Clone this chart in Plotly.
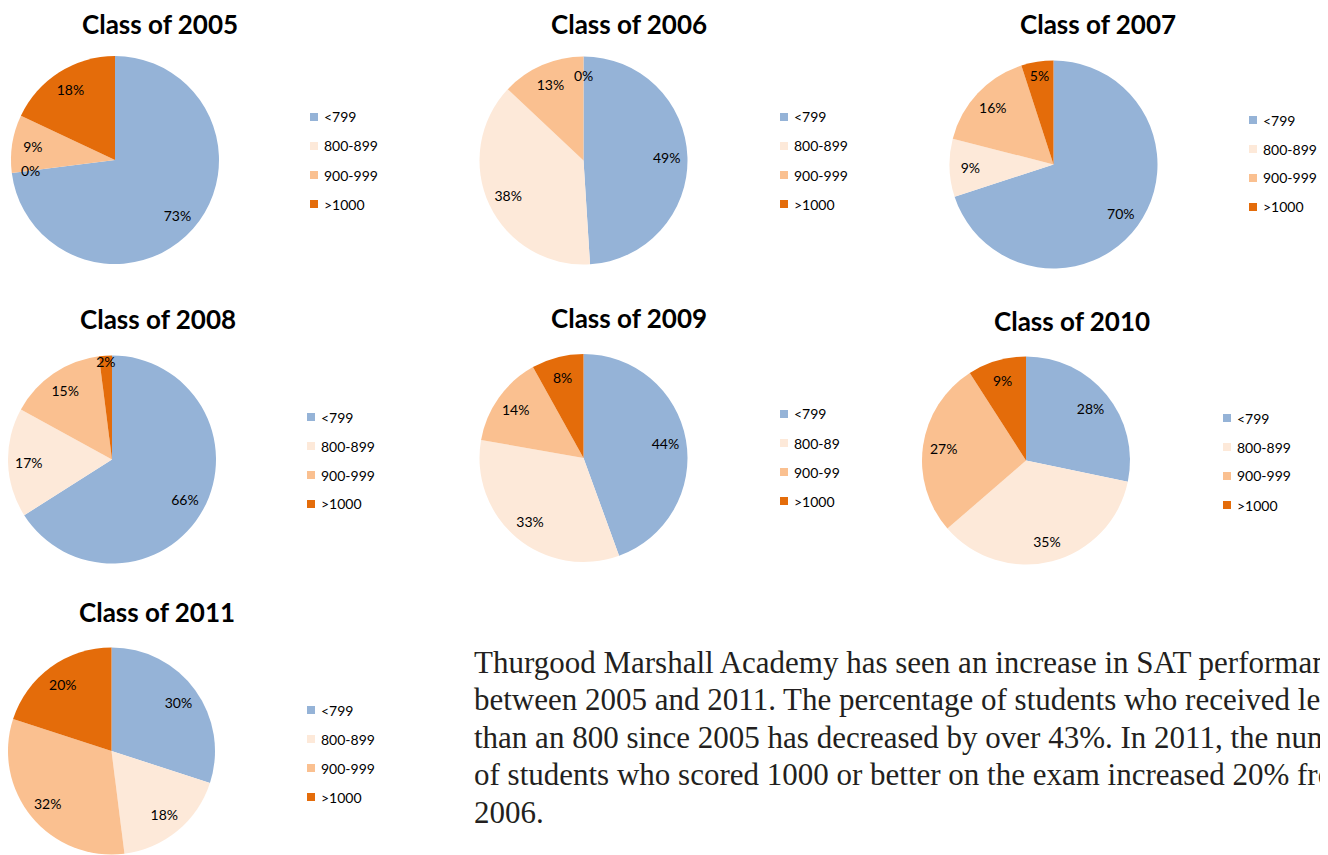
import math
import plotly.graph_objects as go

W, H = 1328, 855
OFF = 8                        # the page body adds an 8px margin around the plot div
FW, FH = W - OFF, H - OFF      # figure size, so that the plot ends at the window edge

# ---- data ----
years = ["2005", "2006", "2007", "2008", "2009", "2010", "2011"]
bands = ["<799", "800-899", "900-999", ">1000"]
bands_2009 = ["<799", "800-89", "900-99", ">1000"]  # as printed on the 2009 legend

pct_2005 = [73, 0, 9, 18]
pct_2006 = [49, 38, 13, 0]
pct_2007 = [70, 9, 16, 5]
pct_2008 = [66, 17, 15, 2]
pct_2009 = [44, 33, 14, 8]
pct_2010 = [28, 35, 27, 9]
pct_2011 = [30, 18, 32, 20]

colors = ["#95B3D7", "#FDE9D9", "#FAC090", "#E46C0A"]

summary_lines = [
    "Thurgood Marshall Academy has seen an increase in SAT performance",
    "between 2005 and 2011. The percentage of students who received less",
    "than an 800 since 2005 has decreased by over 43%. In 2011, the number",
    "of students who scored 1000 or better on the exam increased 20% from",
    "2006.",
]

# ---- placement in window pixels: pie centre, radius, title centre, legend swatch x, first legend row y ----
panels = [
    dict(cx=115, cy=160, r=104, tx=160, ty=21, lx=314, ly=117),
    dict(cx=583.5, cy=160.5, r=104, tx=629, ty=20, lx=784, ly=117),
    dict(cx=1053.5, cy=164.5, r=104, tx=1098, ty=24, lx=1253, ly=120),
    dict(cx=112, cy=459.5, r=104, tx=158, ty=319, lx=311, ly=417),
    dict(cx=583.5, cy=458, r=104, tx=629, ty=318, lx=784, ly=414),
    dict(cx=1026, cy=460.5, r=104, tx=1072, ty=321, lx=1227, ly=418),
    dict(cx=111, cy=751, r=104, tx=157, ty=612, lx=311, ly=710),
]
row_gap = 29
label_r = 0.82   # data labels sit at ~82% of the radius
title_size = 26

series = [pct_2005, pct_2006, pct_2007, pct_2008, pct_2009, pct_2010, pct_2011]
label_sets = [bands, bands, bands, bands, bands_2009, bands, bands]


def px_x(x):
    return (x - OFF) / FW


def px_y(y):
    return 1 - (y - OFF) / FH


fig = go.Figure()
shapes = []
annotations = []
label_font = dict(family="Lato", size=14, color="#000000")

for year, vals, labs, p in zip(years, series, label_sets, panels):
    dom = dict(
        x=[max(0, px_x(p["cx"] - p["r"])), px_x(p["cx"] + p["r"])],
        y=[max(0, px_y(p["cy"] + p["r"])), min(1, px_y(p["cy"] - p["r"]))],
    )
    # solid pie
    fig.add_trace(go.Pie(
        labels=labs, values=vals, domain=dom, sort=False, direction="clockwise",
        rotation=0, marker=dict(colors=colors, line=dict(width=0)),
        textinfo="none", showlegend=False, name="Class of " + year,
        hovertemplate="%{label}: %{value}%<extra>Class of " + year + "</extra>",
    ))
    # transparent ring on top, only to carry the data labels near the rim
    fig.add_trace(go.Pie(
        labels=labs, values=vals, domain=dom, sort=False, direction="clockwise",
        rotation=0, hole=0.6,
        marker=dict(colors=["rgba(0,0,0,0)"] * len(vals), line=dict(width=0)),
        text=[f"{v}%" if v else "" for v in vals], textinfo="text", textposition="inside",
        insidetextorientation="horizontal", textfont=label_font,
        showlegend=False, hoverinfo="skip",
    ))

    # zero-sized slices have no area for plotly to place text in: label them on their boundary
    total = sum(vals)
    cum = 0
    for v in vals:
        if v == 0:
            ang = 2 * math.pi * cum / total
            annotations.append(dict(
                text="0%",
                x=px_x(p["cx"] + label_r * p["r"] * math.sin(ang)),
                y=px_y(p["cy"] - label_r * p["r"] * math.cos(ang)),
                xref="paper", yref="paper", xanchor="center", yanchor="middle",
                showarrow=False, font=label_font,
            ))
        cum += v

    # keep the title's text box inside the figure
    ty = max(p["ty"], OFF + 0.62 * title_size)
    annotations.append(dict(
        text="<b>Class of " + year + "</b>", x=px_x(p["tx"]), y=px_y(ty),
        xref="paper", yref="paper", xanchor="center", yanchor="middle",
        showarrow=False, font=dict(family="Lato", size=title_size, color="#000000"),
    ))

    # legend: small square + label per band
    for k, (lab, col) in enumerate(zip(labs, colors)):
        yy = p["ly"] + k * row_gap
        shapes.append(dict(
            type="rect", xref="paper", yref="paper",
            x0=px_x(p["lx"] - 4), x1=px_x(p["lx"] + 4),
            y0=px_y(yy + 4), y1=px_y(yy - 4),
            fillcolor=col, line=dict(width=0),
        ))
        annotations.append(dict(
            text=lab, x=px_x(p["lx"] + 8), y=px_y(yy),
            xref="paper", yref="paper", xanchor="left", yanchor="middle",
            showarrow=False, font=label_font,
        ))

# paragraph, one annotation per printed line
line_y = [662, 699, 737, 774, 812]
for txt, yy in zip(summary_lines, line_y):
    annotations.append(dict(
        text=txt, x=px_x(472), y=px_y(yy), xref="paper", yref="paper",
        xanchor="left", yanchor="middle", showarrow=False,
        font=dict(family="Liberation Serif", size=31, color="#231F20"),
    ))

fig.update_layout(
    width=FW, height=FH,
    margin=dict(l=0, r=0, t=0, b=0),
    paper_bgcolor="white", plot_bgcolor="white",
    uniformtext=dict(minsize=14, mode="show"),
    shapes=shapes, annotations=annotations,
)

fig.write_html("out.html")
